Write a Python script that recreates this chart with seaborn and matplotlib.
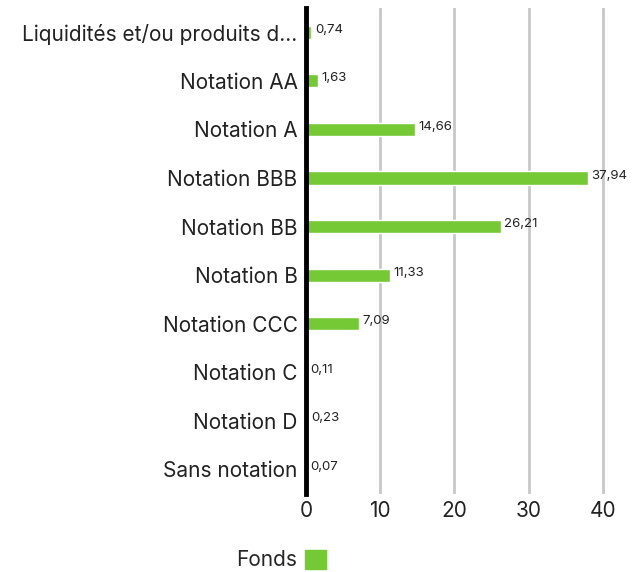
import seaborn as sns
import pandas as pd
import matplotlib.pyplot as plt

categories = ["Liquidités et/ou produits d...", "Notation AA", "Notation A", "Notation BBB",
              "Notation BB", "Notation B", "Notation CCC", "Notation C", "Notation D",
              "Sans notation"]
values = [0.74, 1.63, 14.66, 37.94, 26.21, 11.33, 7.09, 0.11, 0.23, 0.07]
series_name = "Fonds"
x_ticks = [0, 10, 20, 30, 40]

df = pd.DataFrame({"categorie": categories, "valeur": values, "serie": series_name})

sns.set_style("white")
plt.rcParams['font.family'] = ['Inter', 'DejaVu Sans']

fig = plt.figure(figsize=(6.32, 5.72), dpi=100)
ax = fig.add_axes([0.484, 0.137, 0.516, 0.849])

green = "#74c935"
sns.barplot(data=df, x="valeur", y="categorie", hue="serie", palette=[green],
            width=0.27, ax=ax, zorder=3, saturation=1)

for i, v in enumerate(values):
    ax.text(v + 0.5, i - 0.05, f"{v:.2f}".replace(".", ","), fontsize=9.5,
            color="#222222", va="center", ha="left", zorder=4)

ax.set_xlim(0, 43.9)
ax.set_ylim(9.5, -0.5)
ax.set_xticks(x_ticks)
ax.xaxis.grid(True, color="#c8c8c8", linewidth=2, zorder=0)
ax.tick_params(axis="x", labelsize=15, length=0, pad=5, colors="#222222")
ax.tick_params(axis="y", labelsize=15, length=0, pad=6, colors="#222222")
ax.set_xlabel("")
ax.set_ylabel("")
for s in ["top", "right", "bottom"]:
    ax.spines[s].set_visible(False)
ax.spines["left"].set_color("black")
ax.spines["left"].set_linewidth(3.5)
ax.spines["left"].set_zorder(5)

ax.legend_.remove()
handles = [plt.Rectangle((0, 0), 1, 1, color=green)]
fig.legend(handles, [series_name], loc="lower center", bbox_to_anchor=(0.445, -0.03),
           frameon=False, markerfirst=False, fontsize=15, handlelength=1.0,
           handleheight=1.0, handletextpad=0.4)

fig.savefig("out.png", dpi=100)
